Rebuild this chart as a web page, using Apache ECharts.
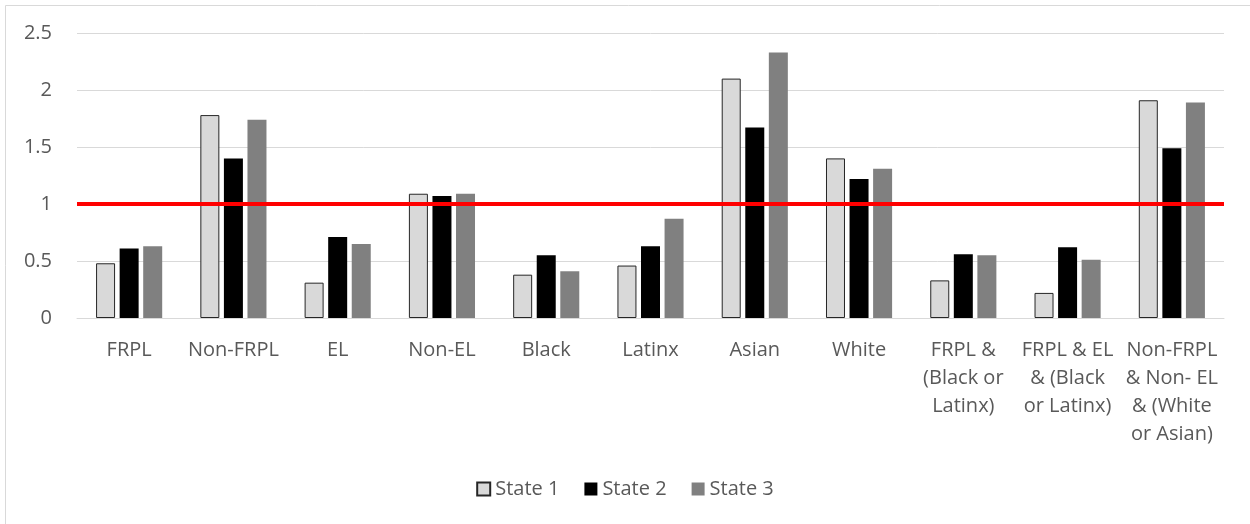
<!DOCTYPE html>
<html>
<head>
<meta charset="utf-8">
<script src="https://cdn.jsdelivr.net/npm/echarts@6/dist/echarts.min.js"></script>
<style>
  html, body { margin: 0; padding: 0; background: #ffffff; }
  #chart { width: 1250px; height: 524px; }
</style>
</head>
<body>
<div id="chart"></div>
<script>
// Group labels along the x axis (line breaks as shown under each group)
const categories = [
  'FRPL', 'Non-FRPL', 'EL', 'Non-EL', 'Black', 'Latinx', 'Asian', 'White',
  'FRPL &\n(Black or\nLatinx)',
  'FRPL & EL\n& (Black\nor Latinx)',
  'Non-FRPL\n& Non- EL\n& (White\nor Asian)'
];

// Ratio values per state
const state1 = [0.48, 1.78, 0.31, 1.09, 0.38, 0.46, 2.10, 1.40, 0.33, 0.22, 1.91];
const state2 = [0.61, 1.40, 0.71, 1.07, 0.55, 0.63, 1.67, 1.22, 0.56, 0.62, 1.49];
const state3 = [0.63, 1.74, 0.65, 1.09, 0.41, 0.87, 2.33, 1.31, 0.55, 0.51, 1.89];

const seriesNames = ['State 1', 'State 2', 'State 3'];

// Parity reference level
const parityLevel = 1;

// Y axis range and step
const yMin = 0;
const yMax = 2.5;
const yStep = 0.5;

const FONT = '"Open Sans", "Noto Sans", sans-serif';
const TEXT = '#595959';
const FONT_SIZE = 20;

const chart = echarts.init(document.getElementById('chart'), null, { renderer: 'canvas' });

chart.setOption({
  animation: false,
  backgroundColor: '#ffffff',
  textStyle: { fontFamily: FONT },
  graphic: [{
    type: 'rect',
    shape: { x: 5.5, y: 5.5, width: 1400, height: 700 },
    style: { fill: 'none', stroke: '#d9d9d9', lineWidth: 1 },
    silent: true,
    z: -10
  }],
  grid: { left: 77, right: 26, top: 33, bottom: 206, containLabel: false },
  legend: {
    data: seriesNames,
    bottom: 20,
    left: 'center',
    itemWidth: 13,
    itemHeight: 13,
    itemGap: 25,
    icon: 'rect',
    textStyle: { color: TEXT, fontSize: FONT_SIZE, fontFamily: FONT }
  },
  xAxis: {
    type: 'category',
    data: categories,
    axisLine: { show: true, lineStyle: { color: '#d9d9d9', width: 1 } },
    axisTick: { show: false },
    axisLabel: {
      color: TEXT,
      fontSize: FONT_SIZE,
      fontFamily: FONT,
      lineHeight: 28,
      margin: 18,
      interval: 0,
      align: 'center'
    }
  },
  yAxis: {
    type: 'value',
    min: yMin,
    max: yMax,
    interval: yStep,
    axisLine: { show: false },
    axisTick: { show: false },
    splitLine: { lineStyle: { color: '#d9d9d9', width: 1 } },
    axisLabel: {
      color: TEXT,
      fontSize: FONT_SIZE,
      fontFamily: FONT,
      margin: 25,
      formatter: v => String(v)
    }
  },
  series: [
    {
      name: seriesNames[0],
      type: 'bar',
      data: state1,
      barWidth: 19,
      barGap: '24%',
      itemStyle: { color: '#d9d9d9', borderColor: '#262626', borderWidth: 1 },
      markLine: {
        silent: true,
        symbol: ['none', 'none'],
        label: { show: false },
        lineStyle: { color: '#ff0000', width: 4, type: 'solid' },
        data: [{ yAxis: parityLevel }],
        z: 10
      },
      z: 2
    },
    {
      name: seriesNames[1],
      type: 'bar',
      data: state2,
      barWidth: 19,
      barGap: '24%',
      itemStyle: { color: '#000000' },
      z: 2
    },
    {
      name: seriesNames[2],
      type: 'bar',
      data: state3,
      barWidth: 19,
      barGap: '24%',
      itemStyle: { color: '#808080' },
      z: 2
    }
  ]
});
</script>
</body>
</html>
